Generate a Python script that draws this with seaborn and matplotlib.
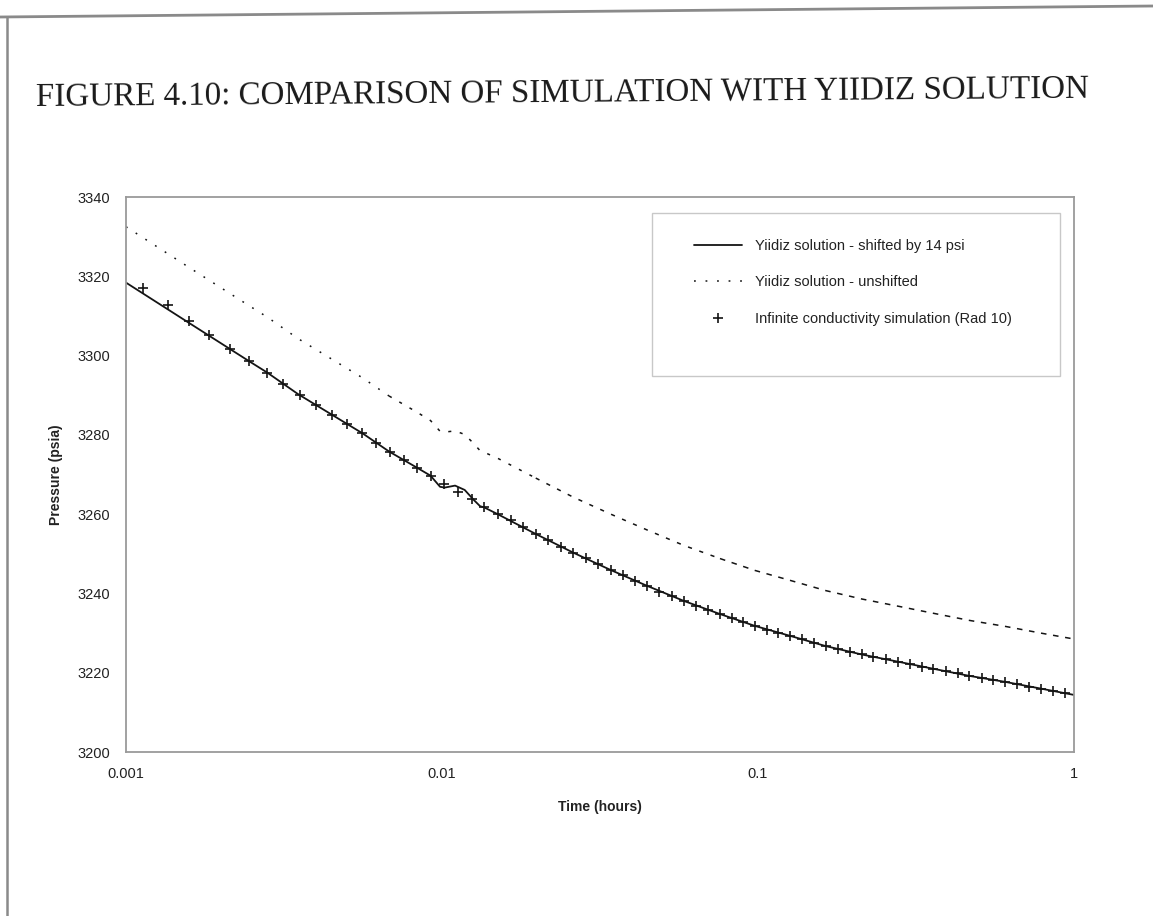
import matplotlib
matplotlib.use("Agg")
import matplotlib.pyplot as plt
import seaborn as sns
import numpy as np
import pandas as pd
from matplotlib.lines import Line2D
from matplotlib.patches import Rectangle

# ---------------- data ----------------
# Yiidiz solution - shifted by 14 psi (solid line)
t_shift = [0.001, 0.0016, 0.00245, 0.0028, 0.0035, 0.0045, 0.0056, 0.0068, 0.0083, 0.0092,
           0.00986, 0.0102, 0.0110, 0.0118, 0.0126, 0.0132, 0.0136, 0.0150, 0.0198, 0.0260,
           0.0342, 0.0446, 0.0583, 0.0758, 0.0978, 0.1263, 0.1641, 0.2129, 0.2767, 0.3586,
           0.4664, 0.6047, 0.7845, 1.0]
p_shift = [3318.4, 3308.0, 3298.6, 3295.7, 3290.3, 3285.0, 3280.4, 3275.8, 3271.8, 3269.7,
           3266.9, 3266.7, 3267.2, 3266.1, 3263.6, 3262.0, 3261.7, 3260.0, 3255.0, 3250.3,
           3245.9, 3241.9, 3238.1, 3234.8, 3231.8, 3229.3, 3226.7, 3224.6, 3222.8, 3221.0,
           3219.2, 3217.7, 3216.0, 3214.4]

# Yiidiz solution - unshifted (dotted line)
t_unshift = [0.001, 0.0016, 0.00245, 0.0028, 0.0035, 0.0045, 0.0056, 0.0068, 0.0083, 0.0092,
             0.00986, 0.0102, 0.0110, 0.0118, 0.0126, 0.0132, 0.0136, 0.0150, 0.0198, 0.0260,
             0.0342, 0.0446, 0.0583, 0.0758, 0.0978, 0.1263, 0.1641, 0.2129, 0.2767, 0.3586,
             0.4664, 0.6047, 0.7845, 1.0]
p_unshift = [3332.5, 3322.0, 3312.6, 3309.7, 3304.3, 3299.0, 3294.4, 3289.8, 3285.8, 3283.6,
             3280.9, 3280.7, 3281.0, 3280.1, 3277.8, 3276.0, 3275.6, 3274.1, 3269.1, 3264.3,
             3260.0, 3256.0, 3252.1, 3248.8, 3245.8, 3243.3, 3240.7, 3238.6, 3236.8, 3235.0,
             3233.2, 3231.7, 3230.0, 3228.5]

# Infinite conductivity simulation (Rad 10) (+ markers)
t_sim = [0.001135, 0.001355, 0.001585, 0.001834, 0.002133, 0.002455, 0.002786, 0.003148, 0.003555, 0.00399,
         0.00448, 0.00499, 0.00557, 0.00618, 0.00685, 0.00758, 0.00835, 0.00921, 0.01015, 0.01126,
         0.01242, 0.01361, 0.01500, 0.01650, 0.01808, 0.01984, 0.02170, 0.02380, 0.02603, 0.02855,
         0.03123, 0.03419, 0.03731, 0.04081, 0.04464, 0.04873, 0.05332, 0.05832, 0.06366, 0.06963,
         0.07581, 0.08274, 0.08983, 0.09784, 0.1070, 0.1159, 0.1263, 0.1375, 0.1504, 0.1641,
         0.1795, 0.1955, 0.2129, 0.2317, 0.2542, 0.2767, 0.3029, 0.3296, 0.3586, 0.3926,
         0.4285, 0.4664, 0.5104, 0.5553, 0.6047, 0.6615, 0.7205, 0.7845, 0.8599, 0.9365]
p_sim = [3317.1, 3312.8, 3308.8, 3305.2, 3301.7, 3298.6, 3295.7, 3292.8, 3290.1, 3287.5,
         3285.0, 3282.7, 3280.4, 3278.0, 3275.7, 3273.7, 3271.7, 3269.7, 3267.6, 3265.7,
         3263.7, 3261.7, 3260.0, 3258.5, 3256.7, 3255.0, 3253.5, 3251.8, 3250.3, 3248.9,
         3247.4, 3245.9, 3244.6, 3243.1, 3241.9, 3240.4, 3239.3, 3238.1, 3236.9, 3235.8,
         3234.8, 3233.7, 3232.8, 3231.8, 3230.9, 3230.1, 3229.3, 3228.4, 3227.6, 3226.7,
         3226.0, 3225.3, 3224.6, 3224.0, 3223.4, 3222.8, 3222.2, 3221.5, 3221.0, 3220.4,
         3219.9, 3219.2, 3218.7, 3218.2, 3217.7, 3217.1, 3216.5, 3216.0, 3215.5, 3214.8]

x_ticks = [0.001, 0.01, 0.1, 1]
x_ticklabels = ["0.001", "0.01", "0.1", "1"]
y_ticks = [3200, 3220, 3240, 3260, 3280, 3300, 3320, 3340]

title = "FIGURE 4.10: COMPARISON OF SIMULATION WITH YIIDIZ SOLUTION"
labels = ["Yiidiz solution - shifted by 14 psi",
          "Yiidiz solution - unshifted",
          "Infinite conductivity simulation (Rad 10)"]

# ---------------- styling ----------------
sns.set_theme(style="white")
plt.rcParams["font.family"] = ["Liberation Sans", "DejaVu Sans"]
plt.rcParams["lines.scale_dashes"] = False

W, H = 1153, 916
fig = plt.figure(figsize=(W / 100, H / 100), dpi=100)
fig.patch.set_facecolor("white")
ax = fig.add_axes([126 / W, 1 - 752 / H, 948 / W, 555 / H])
ax.set_facecolor("white")

df_shift = pd.DataFrame({"t": t_shift, "p": p_shift})
df_un = pd.DataFrame({"t": t_unshift, "p": p_unshift})
df_sim = pd.DataFrame({"t": t_sim, "p": p_sim})

ink = "#141414"

sns.lineplot(data=df_shift, x="t", y="p", ax=ax, color=ink, lw=1.3,
             sort=False, errorbar=None, label=labels[0])

# dotted line: pattern stretches from dots to short dashes along the curve
pieces = [(0.0, 0.0068, (0, (1.3, 7.0))),
          (0.0068, 0.0198, (0, (2.2, 6.3))),
          (0.0198, 0.0758, (0, (3.0, 5.6))),
          (0.0758, 1.01, (0, (4.0, 4.8)))]
for i, (lo, hi, ls) in enumerate(pieces):
    seg = df_un[(df_un["t"] >= lo) & (df_un["t"] <= hi)]
    sns.lineplot(data=seg, x="t", y="p", ax=ax, color=ink, lw=1.1,
                 linestyle=ls, sort=False, errorbar=None,
                 label=labels[1] if i == 0 else None)

sns.lineplot(data=df_sim, x="t", y="p", ax=ax, color=ink, linestyle="",
             marker="+", markersize=7.5, markeredgewidth=1.2, markeredgecolor=ink,
             markerfacecolor=ink, sort=False, errorbar=None, label=labels[2])

ax.set_xscale("log")
ax.set_xlim(0.001, 1)
ax.set_ylim(3200, 3340)
ax.set_xticks(x_ticks)
ax.set_xticklabels(x_ticklabels)
ax.minorticks_off()
ax.set_yticks(y_ticks)
ax.tick_params(axis="both", labelsize=10.5, colors="#222222", length=3,
               direction="inout", width=0.8)
ax.tick_params(axis="x", pad=9, color="#999999")
ax.tick_params(axis="y", pad=10, color="#999999")
for s in ax.spines.values():
    s.set_color("#9a9a9a")
    s.set_linewidth(1.3)
ax.grid(False)

ax.set_xlabel("Time (hours)", fontsize=10, fontweight="bold", color="#222222", labelpad=14)
ax.set_ylabel("Pressure (psia)", fontsize=10, fontweight="bold", color="#222222", labelpad=10)

# legend
handles, _ = ax.get_legend_handles_labels()
leg = ax.legend(handles[:3], labels, loc="upper left", bbox_to_anchor=(0.591, 0.938),
                frameon=False, fontsize=10.5, handlelength=3.3, handletextpad=0.9,
                labelspacing=1.55, borderpad=0.0, numpoints=1)
for txt in leg.get_texts():
    txt.set_color("#222222")
ax.add_patch(Rectangle((0.555, 0.677), 0.43, 0.294, transform=ax.transAxes,
                       fill=False, edgecolor="#c8c8c8", lw=1.0, zorder=5))

# title (serif, typewritten page style)
fig.text(0.488, 1 - 93 / H, title, ha="center", va="center",
         fontsize=23.8, family=["Liberation Serif", "DejaVu Serif"],
         color="#1a1a1a", rotation=0.45)

# scanned page border
fig.add_artist(Line2D([0, 1], [1 - 17 / H, 1 - 6 / H], transform=fig.transFigure,
                      color="#8a8a8a", lw=2.0))
fig.add_artist(Line2D([7 / W, 7 / W], [0, 1 - 17 / H], transform=fig.transFigure,
                      color="#8a8a8a", lw=1.8))

fig.savefig("out.png", dpi=100, facecolor="white")
